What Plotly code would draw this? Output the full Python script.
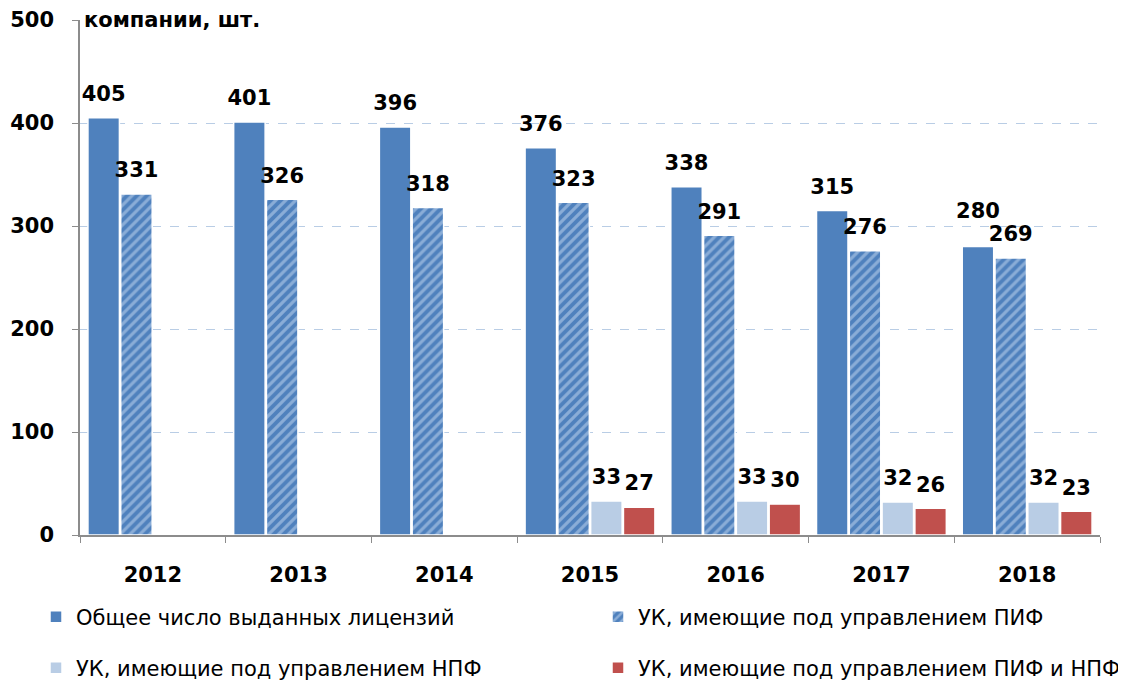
import plotly.graph_objects as go

years = ["2012", "2013", "2014", "2015", "2016", "2017", "2018"]
total_licenses = [405, 401, 396, 376, 338, 315, 280]
uk_pif = [331, 326, 318, 323, 291, 276, 269]
uk_npf = [None, None, None, 33, 33, 32, 32]
uk_pif_npf = [None, None, None, 27, 30, 26, 23]

names = [
    "Общее число выданных лицензий",
    "УК, имеющие под управлением ПИФ",
    "УК, имеющие под управлением НПФ",
    "УК, имеющие под управлением ПИФ и НПФ",
]

# small base font -> small extra line below each label (acts as padding)
label_font = dict(family="DejaVu Sans", size=9, color="black")

def lbl(vals, neighbour=None):
    out = []
    for i, v in enumerate(vals):
        if v is None:
            out.append("")
            continue
        pad = "<br> "
        # lift a label further when the neighbouring bar's label would collide
        if neighbour is not None and neighbour[i] is not None and v - neighbour[i] < 15:
            pad += "<br> "
        out.append(f"<span style='font-size:21px'><b>{v}</b></span>{pad}")
    return out

common = dict(textposition="outside", textfont=label_font, cliponaxis=False,
              constraintext="none")

fig = go.Figure()
fig.add_trace(go.Bar(
    x=years, y=total_licenses, name=names[0], legend="legend",
    marker=dict(color="#4F81BD", line=dict(color="white", width=1.5)),
    text=lbl(total_licenses, uk_pif), **common,
))
fig.add_trace(go.Bar(
    x=years, y=uk_pif, name=names[1], legend="legend2",
    marker=dict(color="#4F81BD", line=dict(color="white", width=1.5),
                pattern=dict(shape="/", fgcolor="#C6D9F1", bgcolor="#4F81BD",
                             size=7, solidity=0.45)),
    text=lbl(uk_pif), **common,
))
fig.add_trace(go.Bar(
    x=years, y=uk_npf, name=names[2], legend="legend3",
    marker=dict(color="#B9CDE5", line=dict(color="white", width=1.5)),
    text=lbl(uk_npf), **common,
))
fig.add_trace(go.Bar(
    x=years, y=uk_pif_npf, name=names[3], legend="legend4",
    marker=dict(color="#C0504D", line=dict(color="white", width=1.5)),
    text=lbl(uk_pif_npf), **common,
))

legend_font = dict(family="DejaVu Sans", size=21, color="black")

def leg(x, y):
    return dict(orientation="h", x=x, xanchor="left", y=y, yanchor="middle",
                font=legend_font, itemwidth=30, bgcolor="rgba(0,0,0,0)")

W, H = 1118, 678
L, R, T, B = 72, 26, 12, 151
plot_w = W - L - R
plot_h = H - T - B
# page coords are offset by 8px body margin
row1 = (535 - 617) / plot_h
row2 = (535 - 668) / plot_h
x1 = (28 - L) / plot_w
x2 = (590 - L) / plot_w

fig.update_layout(
    width=W, height=H,
    margin=dict(l=L, r=R, t=T, b=B, autoexpand=False),
    paper_bgcolor="white", plot_bgcolor="white",
    barmode="group", bargap=0.1, bargroupgap=0.04,
    showlegend=True,
    legend=leg(x1, row1),
    legend2=leg(x2, row1),
    legend3=leg(x1, row2),
    legend4=leg(x2, row2),
    xaxis=dict(
        type="category", showline=True, linecolor="#8C8C8C", linewidth=1.5,
        ticks="outside", tickson="boundaries", ticklen=6, tickcolor="#8C8C8C",
        ticklabelstandoff=20,
        tickfont=dict(family="DejaVu Sans", size=21, color="black", weight="bold"),
        showgrid=False,
    ),
    yaxis=dict(
        range=[0, 500], dtick=100, showline=True, linecolor="#8C8C8C", linewidth=1.5,
        ticks="outside", ticklen=6, tickcolor="#8C8C8C",
        ticklabelstandoff=14,
        tickfont=dict(family="DejaVu Sans", size=21, color="black", weight="bold"),
        showgrid=True, gridcolor="#B9CDE5", griddash="dash", gridwidth=1,
        zeroline=False,
    ),
    annotations=[dict(
        text="<b>компании, шт.</b>", xref="paper", yref="paper", x=0.002, y=1.0,
        xanchor="left", yanchor="middle", showarrow=False,
        font=dict(family="DejaVu Sans", size=21, color="black"),
    )],
)

fig.write_html("out.html")
